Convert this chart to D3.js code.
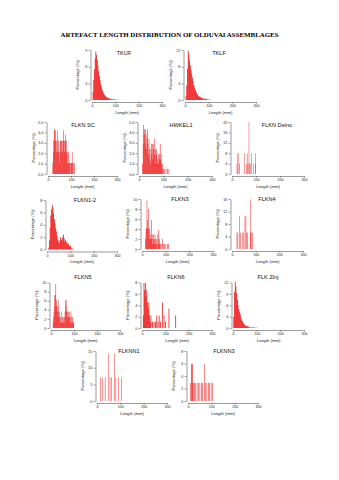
<!DOCTYPE html>
<html>
<head>
<meta charset="utf-8">
<script src="https://cdn.jsdelivr.net/npm/d3@7"></script>
<style>
  html, body { margin: 0; padding: 0; background: #fff; }
  svg { display: block; }
</style>
</head>
<body>
<div id="chart"></div>
<script>
const chartTitle = 'ARTEFACT LENGTH DISTRIBUTION OF OLDUVAI ASSEMBLAGES';
const names = ['TKUF', 'TKLF', 'FLKN SC', 'HWKEL1', 'FLKN Deino', 'FLKN1-2', 'FLKN3',
  'FLKN4', 'FLKN5', 'FLKN6', 'FLK Zinj', 'FLKNN1', 'FLKNN3'];
const xTicks = [0, 100, 200, 300];

// each entry: [length (mm), percentage]
const tkuf = [[3, 1.5], [6, 3.6], [9, 5.5], [12, 7.5], [15, 8.7], [18, 8.1], [21, 7.2], [24, 6.2],
  [27, 5.2], [30, 4.3], [33, 3.6], [36, 2.9], [39, 2.4], [42, 1.9], [45, 1.6], [48, 1.26],
  [51, 1.0], [54, 0.85], [57, 0.7], [60, 0.56], [63, 0.46], [66, 0.4], [69, 0.34], [72, 0.28],
  [75, 0.23], [78, 0.2], [81, 0.17], [84, 0.14], [87, 0.12], [90, 0.11], [93, 0.1], [96, 0.09],
  [99, 0.08], [105, 0.06], [111, 0.05], [120, 0.04]];
const tklf = [[3, 1.0], [6, 3.5], [9, 7.5], [12, 11.8], [15, 11.0], [18, 9.5], [21, 8.3], [24, 7.2],
  [27, 6.3], [30, 5.4], [33, 4.5], [36, 3.6], [39, 3.0], [42, 2.5], [45, 2.0], [48, 1.7],
  [51, 1.4], [54, 1.1], [57, 0.9], [60, 0.8], [63, 0.7], [66, 0.6], [69, 0.5], [72, 0.45],
  [75, 0.4], [80, 0.35], [85, 0.3], [90, 0.25], [95, 0.2], [100, 0.15], [105, 0.1]];
const flknSc = [[20, 1.05], [22, 2.1], [24, 3.2], [26, 4.2], [28, 4.3], [30, 3.2], [32, 4.2], [34, 3.2],
  [36, 2.1], [38, 3.2], [40, 4.2], [42, 2.1], [44, 3.2], [46, 2.1], [48, 1.05], [50, 2.1],
  [52, 3.2], [54, 3.2], [56, 2.1], [58, 3.2], [60, 3.2], [62, 2.1], [64, 3.2], [66, 4.2],
  [68, 3.2], [70, 2.1], [72, 3.2], [74, 3.8], [76, 3.2], [78, 2.1], [80, 3.2], [82, 2.1],
  [84, 1.05], [86, 2.1], [88, 1.05], [90, 2.1], [92, 1.05], [94, 1.05], [96, 1.05], [100, 1.05],
  [102, 1.05], [104, 2.1], [106, 1.05], [110, 1.05], [115, 1.05]];
const hwkel1 = [[14, 1.0], [16, 2.9], [18, 4.7], [20, 3.8], [22, 4.3], [24, 2.9], [26, 4.3], [28, 3.8],
  [30, 2.4], [32, 3.4], [34, 4.3], [36, 2.9], [38, 1.9], [40, 3.4], [42, 2.4], [44, 1.4],
  [46, 1.0], [48, 2.4], [50, 2.9], [52, 1.9], [54, 2.9], [56, 1.4], [58, 2.4], [60, 2.9],
  [62, 1.9], [64, 3.4], [66, 2.4], [68, 1.0], [70, 1.9], [72, 2.4], [74, 1.4], [76, 1.0],
  [78, 1.9], [80, 1.0], [82, 1.4], [84, 1.9], [86, 2.9], [88, 1.4], [90, 1.9], [92, 1.0],
  [94, 0.5], [96, 1.0], [100, 0.5], [104, 0.5], [110, 0.5], [116, 0.5], [122, 0.5]];
const flknDeino = [[20, 4], [22, 8], [28, 8], [30, 4], [50, 8], [60, 4], [64, 8], [66, 4],
  [70, 20], [72, 4], [76, 4], [80, 8], [90, 4], [96, 8], [98, 4]];
const flkn12 = [[6, 0.3], [9, 1.5], [12, 3.5], [15, 5.5], [18, 6.5], [21, 7.2], [24, 6.8], [27, 5.8],
  [30, 4.9], [33, 4.2], [36, 3.4], [39, 2.9], [42, 2.2], [45, 1.6], [48, 1.3], [51, 1.0],
  [54, 1.5], [57, 2.0], [60, 1.6], [63, 1.4], [66, 2.0], [69, 2.4], [72, 1.8], [75, 1.3],
  [78, 1.5], [81, 1.1], [84, 1.3], [87, 0.8], [90, 1.0], [93, 0.7], [96, 0.5], [99, 0.6],
  [102, 0.3], [106, 0.2], [110, 0.1]];
const flkn3 = [[14, 2.0], [16, 4.1], [18, 4.1], [20, 9.7], [22, 5.8], [24, 4.1], [26, 8.0], [28, 4.1],
  [30, 2.0], [32, 4.1], [34, 2.0], [36, 2.9], [38, 5.8], [40, 2.0], [42, 2.9], [44, 1.0],
  [46, 2.0], [48, 2.9], [50, 1.0], [52, 2.0], [54, 2.9], [56, 1.0], [58, 2.0], [60, 1.0],
  [62, 2.0], [66, 2.9], [68, 1.0], [70, 3.8], [72, 1.0], [74, 2.0], [78, 1.0], [82, 1.0],
  [86, 2.0], [90, 1.0], [94, 1.0], [100, 1.0], [106, 1.0], [110, 1.0]];
const flkn4 = [[20, 5.26], [24, 5.26], [32, 10.5], [36, 5.26], [42, 5.26], [48, 5.26], [54, 10.5],
  [58, 10.5], [62, 5.26], [66, 5.26], [76, 15.8], [78, 5.26], [82, 5.26], [86, 5.26]];
const flkn5 = [[8, 1.2], [10, 2.4], [12, 3.6], [14, 7.2], [16, 4.8], [18, 7.2], [20, 9.7], [22, 4.8],
  [24, 6.1], [26, 3.6], [28, 4.8], [30, 6.1], [32, 3.6], [34, 2.4], [36, 3.6], [38, 2.4],
  [40, 1.2], [42, 2.4], [44, 1.2], [46, 3.6], [48, 2.4], [50, 1.2], [52, 2.4], [54, 1.2],
  [56, 1.2], [58, 2.4], [60, 3.6], [62, 6.1], [64, 4.8], [66, 3.6], [68, 6.1], [70, 3.6],
  [72, 2.4], [74, 3.6], [76, 2.4], [78, 3.6], [80, 2.4], [82, 1.2], [84, 2.4], [86, 3.6],
  [88, 1.2], [90, 2.4], [92, 1.2], [94, 2.4], [96, 1.2], [98, 1.2]];
const flkn6 = [[4, 2.2], [7, 7.9], [10, 6.7], [13, 7.9], [16, 5.6], [19, 6.7], [22, 4.5], [25, 3.4],
  [28, 4.5], [31, 2.2], [34, 1.1], [37, 2.2], [43, 1.1], [50, 1.1], [57, 1.1], [62, 2.2],
  [67, 1.1], [72, 2.2], [78, 1.1], [86, 4.5], [93, 2.2], [100, 1.1], [114, 3.4], [143, 2.2]];
const flkZinj = [[2, 3.0], [5, 9.5], [8, 12.2], [11, 11.0], [14, 9.2], [17, 7.5], [20, 6.0], [23, 5.0],
  [26, 4.3], [29, 3.7], [32, 2.9], [35, 2.2], [38, 1.8], [41, 1.4], [44, 1.2], [47, 0.9],
  [50, 0.7], [53, 0.6], [56, 0.5], [59, 0.45], [62, 0.4], [65, 0.35], [70, 0.3], [75, 0.25],
  [80, 0.2], [85, 0.15], [90, 0.15], [95, 0.1], [100, 0.1]];
const flknn1 = [[14, 7.1], [22, 7.1], [34, 7.1], [47, 14.3], [55, 7.1], [60, 7.1], [73, 14.3],
  [80, 7.1], [92, 7.1], [104, 7.1]];
const flknn3 = [[10, 2.9], [14, 5.9], [16, 5.9], [18, 5.9], [20, 2.9], [24, 2.9], [28, 2.9], [32, 2.9],
  [38, 2.9], [44, 2.9], [50, 2.9], [56, 2.9], [62, 2.9], [69, 5.9], [74, 2.9], [80, 2.9],
  [86, 2.9], [92, 2.9], [98, 2.9], [105, 2.9]];

const yTicks = [
  [0, 3, 6, 9], [0, 4, 8, 12], [0, 1, 2, 3, 4, 5], [0, 1, 2, 3, 4, 5], [0, 4, 8, 12, 16, 20],
  [0, 2, 4, 6, 8], [0, 2, 4, 6, 8, 10], [0, 4, 8, 12, 16], [0, 2, 4, 6, 8, 10], [0, 2, 4, 6, 8],
  [0, 3, 6, 9, 12], [0, 5, 10, 15], [0, 2, 4, 6, 8]
];
const series = [tkuf, tklf, flknSc, hwkel1, flknDeino, flkn12, flkn3, flkn4, flkn5, flkn6,
  flkZinj, flknn1, flknn3];

// panel placement: plot origin, plot size, bar width (mm), title centre/baseline
const layout = [
  { x: 92, y: 50, w: 70, h: 50, bin: 3, tx: 124, ty: 55 },
  { x: 185, y: 50, w: 71, h: 50, bin: 3, tx: 219, ty: 55 },
  { x: 48, y: 122, w: 69, h: 52, bin: 2, tx: 83, ty: 126.5 },
  { x: 139, y: 122, w: 73, h: 52, bin: 2, tx: 181, ty: 126.5 },
  { x: 232, y: 122, w: 72, h: 52, bin: 1.6, tx: 277, ty: 126.5 },
  { x: 47, y: 200, w: 70, h: 49.5, bin: 3, tx: 85, ty: 201.5 },
  { x: 142, y: 199, w: 71, h: 50, bin: 2, tx: 180, ty: 200.5 },
  { x: 232, y: 199, w: 71, h: 50, bin: 1.8, tx: 267, ty: 200.5 },
  { x: 51, y: 282.5, w: 69, h: 45.5, bin: 2, tx: 83, ty: 278.5 },
  { x: 142, y: 282.5, w: 70, h: 45.5, bin: 3, tx: 176, ty: 278.5 },
  { x: 233, y: 282.5, w: 71, h: 45.5, bin: 3, tx: 268, ty: 278.5 },
  { x: 97, y: 351, w: 70, h: 50, bin: 1.8, tx: 129, ty: 353 },
  { x: 188, y: 351, w: 70, h: 50, bin: 2, tx: 224, ty: 353 }
];

const width = 339;
const height = 480;
const red = '#ec0000';
const font = '"Liberation Sans", Arial, sans-serif';

const svg = d3.select('#chart')
  .append('svg')
  .attr('width', width)
  .attr('height', height);

svg.append('rect')
  .attr('width', width)
  .attr('height', height)
  .attr('fill', '#fff');

// main heading
svg.append('text')
  .attr('x', 169.5)
  .attr('y', 37)
  .attr('text-anchor', 'middle')
  .attr('font-family', '"Liberation Serif", "Times New Roman", serif')
  .attr('font-weight', 'bold')
  .attr('font-size', 6.6)
  .attr('textLength', 218)
  .attr('lengthAdjust', 'spacingAndGlyphs')
  .text(chartTitle);

function styleAxis(g) {
  g.attr('font-family', font).attr('font-size', 3.6);
  g.selectAll('path, line').attr('stroke', '#222').attr('stroke-width', 0.45);
  g.selectAll('text').attr('fill', '#222');
}

layout.forEach((p, i) => {
  const data = series[i];
  const ticks = yTicks[i];
  const g = svg.append('g');

  const x = d3.scaleLinear().domain([0, 300]).range([p.x, p.x + p.w]);
  const y = d3.scaleLinear().domain([0, d3.max(ticks)]).range([p.y + p.h, p.y]);
  const barW = x(p.bin) - x(0);

  // histogram bars
  g.append('g')
    .selectAll('rect')
    .data(data)
    .join('rect')
    .attr('x', d => x(d[0]))
    .attr('y', d => y(d[1]))
    .attr('width', barW)
    .attr('height', d => y(0) - y(d[1]))
    .attr('fill', red);

  // y axis, set slightly left of the plot
  g.append('g')
    .attr('transform', `translate(${p.x - 1.5},0)`)
    .call(d3.axisLeft(y).tickValues(ticks).tickSize(2).tickSizeOuter(0).tickPadding(1.2))
    .call(styleAxis);

  // x axis, set slightly below the plot
  g.append('g')
    .attr('transform', `translate(0,${p.y + p.h + 2})`)
    .call(d3.axisBottom(x).tickValues(xTicks).tickSize(1.6).tickSizeOuter(0).tickPadding(1.2))
    .call(styleAxis);

  g.append('text')
    .attr('x', p.x + p.w / 2)
    .attr('y', p.y + p.h + 13.5)
    .attr('text-anchor', 'middle')
    .attr('font-family', font)
    .attr('font-size', 4.2)
    .attr('fill', '#222')
    .text('Length (mm)');

  g.append('text')
    .attr('transform', `translate(${p.x - 13.5},${p.y + p.h / 2}) rotate(-90)`)
    .attr('text-anchor', 'middle')
    .attr('font-family', font)
    .attr('font-size', 4.2)
    .attr('fill', '#222')
    .text('Percentage (%)');

  g.append('text')
    .attr('x', p.tx)
    .attr('y', p.ty)
    .attr('text-anchor', 'middle')
    .attr('font-family', font)
    .attr('font-size', 5.6)
    .attr('fill', '#111')
    .text(names[i]);
});
</script>
</body>
</html>
